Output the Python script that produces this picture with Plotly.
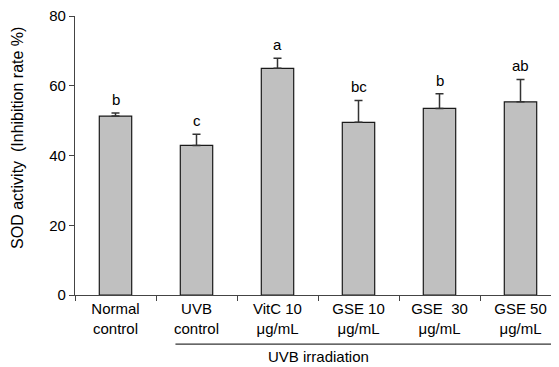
import plotly.graph_objects as go

categories = ["Normal<br>control", "UVB<br>control", "VitC 10<br>μg/mL", "GSE 10<br>μg/mL", "GSE  30<br>μg/mL", "GSE 50<br>μg/mL"]
means = [51.3, 42.9, 65.0, 49.5, 53.5, 55.4]
errors = [0.9, 3.2, 2.9, 6.3, 4.2, 6.4]
letters = ["b", "c", "a", "bc", "b", "ab"]
y_ticks = [0, 20, 40, 60, 80]
y_title = "SOD activity  (Inhibition rate %)"
group_label = "UVB irradiation"

FONT = "Liberation Sans, Arial, sans-serif"
FS = 15

fig = go.Figure()
fig.add_trace(go.Bar(
    x=list(range(len(categories))), y=means,
    marker=dict(color="#c0c0c0", line=dict(color="#1a1a1a", width=1.2)),
    width=0.4,
    error_y=dict(type="data", array=errors, arrayminus=[0]*len(errors), symmetric=False,
                 color="#333333", thickness=1.5, width=4),
))

for i, (m, e, l) in enumerate(zip(means, errors, letters)):
    fig.add_annotation(x=i, y=m + e, text=l, showarrow=False, yanchor="bottom", yshift=3,
                       font=dict(family=FONT, size=FS, color="#000"))

fig.add_shape(type="line", xref="x", yref="paper", x0=0.74, x1=5.6, y0=-0.176, y1=-0.176,
              line=dict(color="#000", width=1))
fig.add_annotation(x=2.5, xref="x", yref="paper", y=-0.222, text=group_label, showarrow=False,
                   yanchor="middle", font=dict(family=FONT, size=FS, color="#000"))

# y-axis title (placed as annotation to match off-centre position)
fig.add_annotation(xref="paper", yref="paper", x=0, y=0.563, xshift=-57, text=y_title,
                   textangle=-90, showarrow=False, xanchor="center", yanchor="middle",
                   borderpad=0, font=dict(family=FONT, size=16, color="#000"))

fig.update_layout(
    width=553, height=359,
    margin=dict(l=67, r=0, t=8, b=72),
    plot_bgcolor="white", paper_bgcolor="white",
    showlegend=False,
    font=dict(family=FONT, size=FS, color="#000"),
)
fig.update_xaxes(
    tickmode="array", tickvals=list(range(len(categories))), ticktext=categories,
    range=[-0.5, 5.5], showline=True, linecolor="#444", linewidth=1.2,
    ticks="", showgrid=False, zeroline=False,
    tickfont=dict(family=FONT, size=FS, color="#000"),
)
fig.update_xaxes(minor=dict(tickmode="array", tickvals=[i - 0.5 for i in range(len(categories) + 1)],
                            ticks="outside", ticklen=5, tickcolor="#444", tickwidth=1.2, showgrid=False))
fig.update_yaxes(
    range=[0, 80], tickvals=y_ticks, ticks="outside", ticklen=5, tickcolor="#444", tickwidth=1.2,
    showline=True, linecolor="#444", linewidth=1.2, showgrid=False, zeroline=False,
    ticklabeloverflow="allow",
    tickfont=dict(family=FONT, size=FS, color="#000"),
)

fig.write_html("out.html")
